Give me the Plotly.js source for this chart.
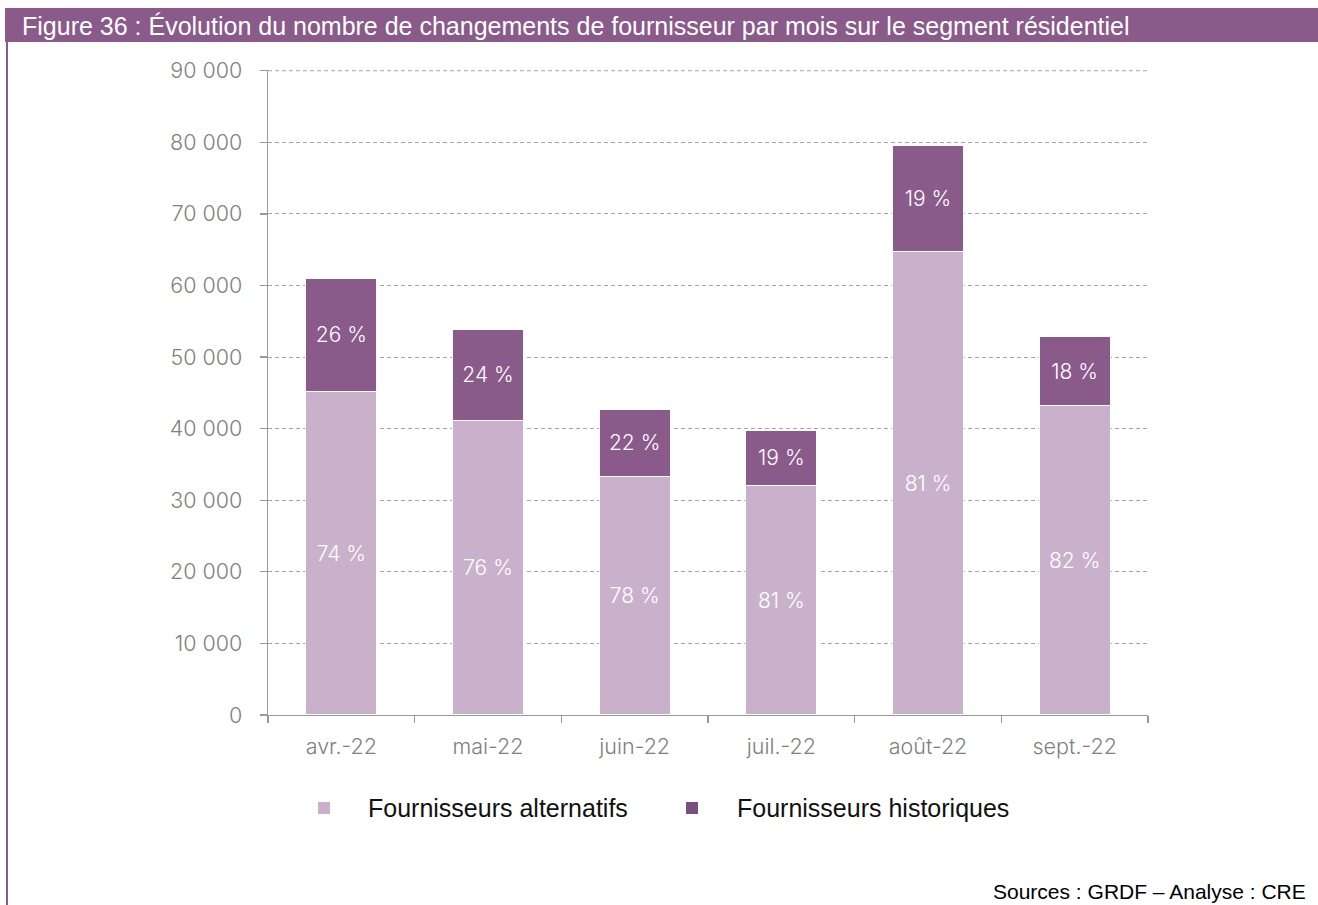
<!DOCTYPE html>
<html>
<head>
<meta charset="utf-8">
<script src="https://cdn.plot.ly/plotly-3.0.1.min.js"></script>
<style>
  html, body { margin: 0; padding: 0; background: #ffffff; }
  #chart { width: 1318px; height: 905px; }
</style>
</head>
<body>
<div id="chart"></div>
<script>
// Monthly supplier switches, residential segment
const months = ['avr.-22', 'mai-22', 'juin-22', 'juil.-22', 'août-22', 'sept.-22'];
const alternatifs = [45200, 41150, 33350, 32100, 64700, 43200];
const historiques = [15800, 12700, 9300, 7670, 14830, 9680];
const seriesNames = ['Fournisseurs alternatifs', 'Fournisseurs historiques'];
const titleText = 'Figure 36 : Évolution du nombre de changements de fournisseur par mois sur le segment résidentiel';
const sourceText = 'Sources : GRDF – Analyse : CRE';
const yMax = 90000;

const colAlt = '#c9b1cb';
const colHist = '#8a5a8a';
const colLegendHist = '#7a5080';
const colBrand = '#8a5a8a';
const gridColor = '#a6a6a6';
const gridDash = '4px,3px';

// share of each supplier type in the monthly total
const totals = alternatifs.map((v, i) => v + historiques[i]);
const pctAlt = alternatifs.map((v, i) => Math.round(100 * v / totals[i]) + '\u00a0%');
const pctHist = historiques.map((v, i) => Math.round(100 * v / totals[i]) + '\u00a0%');

const W = 1318, H = 905;
const M = { l: 268, r: 170, t: 70, b: 190 };
const plotW = W - M.l - M.r, plotH = H - M.t - M.b;
const px = x => (x - M.l) / plotW;
const py = y => (H - M.b - y) / plotH;

const labelFont = { family: 'Inter, sans-serif', size: 21, color: '#ffffff', weight: 300 };
const tickFont = { family: 'Inter, sans-serif', size: 21.5, color: '#7f7f7f', weight: 300 };

const common = {
  type: 'bar',
  x: months,
  width: 0.485,
  textposition: 'inside',
  insidetextanchor: 'middle',
  textangle: 0,
  constraintext: 'none',
  textfont: labelFont,
  hoverinfo: 'skip',
  showlegend: false
};

const traces = [
  Object.assign({}, common, {
    name: seriesNames[0], y: alternatifs, text: pctAlt,
    marker: { color: colAlt, line: { color: '#ffffff', width: 1.2 } }
  }),
  Object.assign({}, common, {
    name: seriesNames[1], y: historiques, text: pctHist,
    marker: { color: colHist, line: { color: '#ffffff', width: 1.2 } }
  })
];

const legendY = 808, sq = 6;
const legendItems = [
  { name: seriesNames[0], color: colAlt, mx: 324, tx: 366 },
  { name: seriesNames[1], color: colLegendHist, mx: 692, tx: 735 }
];

const shapes = [
  // header band
  { type: 'rect', xref: 'paper', yref: 'paper', x0: px(5), x1: px(W), y0: py(42), y1: py(8),
    fillcolor: colBrand, line: { width: 0 }, layer: 'above' },
  // left frame rule
  { type: 'rect', xref: 'paper', yref: 'paper', x0: px(6), x1: px(8), y0: py(H), y1: py(42),
    fillcolor: colBrand, line: { width: 0 }, layer: 'above' },
  // top gridline at the axis maximum
  { type: 'line', xref: 'paper', yref: 'y', x0: 0, x1: 1, y0: yMax, y1: yMax,
    line: { color: gridColor, width: 1, dash: gridDash }, layer: 'below' }
];
legendItems.forEach(it => {
  shapes.push({ type: 'rect', xref: 'paper', yref: 'paper',
    x0: px(it.mx - sq), x1: px(it.mx + sq), y0: py(legendY + sq), y1: py(legendY - sq),
    fillcolor: it.color, line: { width: 0 } });
});

const annotations = [
  { xref: 'paper', yref: 'paper', x: px(20), y: py(26), xanchor: 'left', yanchor: 'middle',
    text: titleText, showarrow: false,
    font: { family: 'Liberation Sans, Arial, sans-serif', size: 25, color: '#ffffff' } },
  { xref: 'paper', yref: 'paper', x: px(1308), y: py(891), xanchor: 'right', yanchor: 'middle',
    text: sourceText, showarrow: false,
    font: { family: 'Liberation Sans, Arial, sans-serif', size: 21, color: '#000000' } }
];
legendItems.forEach(it => {
  annotations.push({ xref: 'paper', yref: 'paper', x: px(it.tx), y: py(legendY), xanchor: 'left', yanchor: 'middle',
    text: it.name, showarrow: false,
    font: { family: 'Liberation Sans, Arial, sans-serif', size: 25, color: '#111111' } });
});

const layout = {
  width: W, height: H,
  margin: M,
  barmode: 'stack',
  paper_bgcolor: '#ffffff',
  plot_bgcolor: '#ffffff',
  separators: ', ',
  font: { family: 'Inter, sans-serif', size: 20, color: '#7f7f7f' },
  showlegend: false,
  xaxis: {
    type: 'category',
    range: [-0.5, months.length - 0.5],
    showline: true, linecolor: '#999999', linewidth: 1.3,
    ticks: 'outside', tickson: 'boundaries', ticklen: 7, tickcolor: '#999999', tickwidth: 1.3,
    showgrid: false, zeroline: false,
    ticklabelstandoff: 12,
    tickfont: tickFont,
    fixedrange: true
  },
  yaxis: {
    range: [0, yMax + 100],
    dtick: 10000, tick0: 0,
    tickformat: ',d',
    showline: true, linecolor: '#999999', linewidth: 1.3,
    ticks: 'outside', ticklen: 7, tickcolor: '#999999', tickwidth: 1.3,
    showgrid: true, gridcolor: gridColor, gridwidth: 1, griddash: gridDash,
    zeroline: false,
    ticklabelstandoff: 13,
    tickfont: tickFont,
    fixedrange: true
  },
  shapes: shapes,
  annotations: annotations
};

Plotly.newPlot('chart', traces, layout, { displayModeBar: false, staticPlot: true });
</script>
</body>
</html>
